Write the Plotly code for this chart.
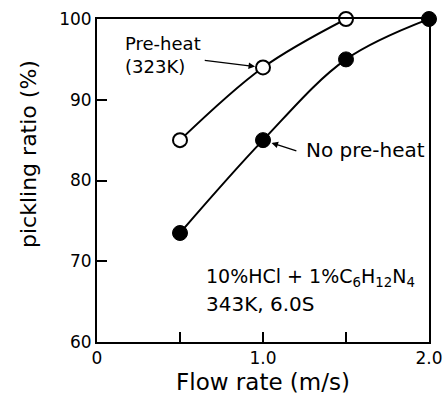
import plotly.graph_objects as go

# Data
pre_x = [0.5, 1.0, 1.5]
pre_y = [85, 94, 100]
no_x = [0.5, 1.0, 1.5, 2.0]
no_y = [73.5, 85, 95, 100]
x_ticks = [0, 0.5, 1.0, 1.5, 2.0]
x_tick_text = ["0", "", "1.0", "", "2.0"]
y_ticks = [60, 70, 80, 90, 100]

FONT = "DejaVu Sans, Liberation Sans, Arial, sans-serif"

fig = go.Figure()
fig.add_trace(go.Scatter(
    x=pre_x, y=pre_y, mode="lines+markers",
    line=dict(color="black", width=2, shape="spline", smoothing=1.0),
    marker=dict(size=14, color="white", line=dict(color="black", width=2)),
    cliponaxis=False, showlegend=False))
fig.add_trace(go.Scatter(
    x=no_x, y=no_y, mode="lines+markers",
    line=dict(color="black", width=2, shape="spline", smoothing=1.0),
    marker=dict(size=15, color="black", line=dict(color="black", width=1)),
    cliponaxis=False, showlegend=False))

annos = [
    dict(x=0.157, y=95.6, text="Pre-heat<br>(323K)", showarrow=False,
         xanchor="left", yanchor="middle", align="left", size=18),
    dict(x=1.245, y=83.8, text="No pre-heat", showarrow=False,
         xanchor="left", yanchor="middle", size=20),
    dict(x=0.645, y=68.0, text="10%HCl + 1%C<sub>6</sub>H<sub>12</sub>N<sub>4</sub>",
         showarrow=False, xanchor="left", yanchor="middle", size=19),
    dict(x=0.645, y=64.7, text="343K, 6.0S", showarrow=False,
         xanchor="left", yanchor="middle", size=20),
    dict(x=1.0, y=94, ax=0.64, ay=94.9, axref="x", ayref="y", text="",
         showarrow=True, arrowhead=2, arrowsize=1, arrowwidth=1.3,
         arrowcolor="black", standoff=8, size=18),
    dict(x=1.0, y=85, ax=1.21, ay=83.6, axref="x", ayref="y", text="",
         showarrow=True, arrowhead=2, arrowsize=1, arrowwidth=1.3,
         arrowcolor="black", standoff=9, size=18),
]
for a in annos:
    sz = a.pop("size")
    a["xref"] = "x"
    a["yref"] = "y"
    a["font"] = dict(family=FONT, size=sz, color="black")
    fig.add_annotation(**a)

# y-axis title (placed slightly above the centre, as in the reference)
fig.add_annotation(
    xref="paper", yref="paper", x=-0.208, y=0.582,
    text="pickling ratio (%)", textangle=-90, showarrow=False,
    xanchor="center", yanchor="middle",
    font=dict(family=FONT, size=22, color="black"))

fig.update_layout(
    width=445, height=401,
    margin=dict(l=97, r=16, t=19, b=59, autoexpand=False),
    paper_bgcolor="white", plot_bgcolor="white",
    font=dict(family=FONT, size=17, color="black"),
)
fig.update_xaxes(
    range=[0, 2.0], tickvals=x_ticks, ticktext=x_tick_text,
    ticks="inside", ticklen=10, tickwidth=1.5, tickcolor="black",
    showline=True, linecolor="black", linewidth=2, mirror=True,
    showgrid=False, zeroline=False, automargin=False,
    title=dict(text="Flow rate (m/s)", font=dict(size=23), standoff=6),
)
fig.update_yaxes(
    range=[60, 100], tickvals=y_ticks,
    ticks="inside", ticklen=10, tickwidth=1.5, tickcolor="black",
    showline=True, linecolor="black", linewidth=2, mirror=True,
    showgrid=False, zeroline=False, automargin=False,
)

fig.write_html("out.html",
               config={"displayModeBar": False},
               post_script="document.body.style.margin='0';document.body.style.overflow='hidden';")
